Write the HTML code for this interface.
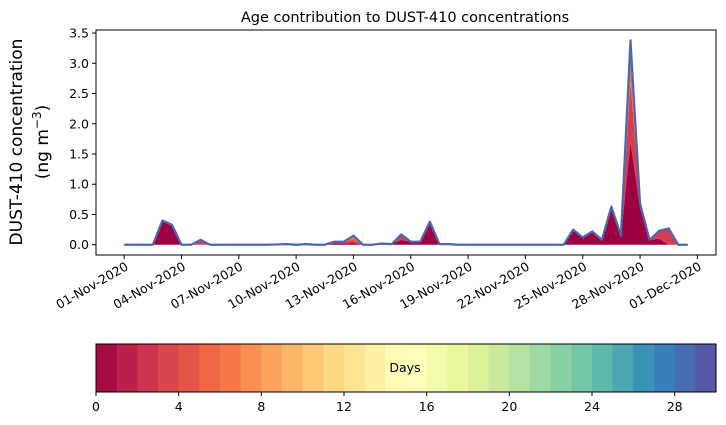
<!DOCTYPE html>
<html><head><meta charset="utf-8"><style>
body{margin:0;background:#fff;}
svg{display:block;font-family:"DejaVu Sans","Liberation Sans",sans-serif;}
</style></head><body>
<svg id="chart" width="726" height="425" viewBox="0 0 726 425" xmlns="http://www.w3.org/2000/svg">
<text x="405" y="22" font-size="14.5" text-anchor="middle">Age contribution to DUST-410 concentrations</text>
<g font-size="17" text-anchor="middle">
<text transform="translate(22,142) rotate(-90)">DUST-410 concentration</text>
<text transform="translate(48,142) rotate(-90)">(ng m<tspan font-size="12" dy="-7">−3</tspan><tspan dy="7">)</tspan></text>
</g>
<g id="layers"></g>
<g id="axes"></g>
<g id="cbar"></g>
</svg>
<script>
const dayIndex = [];
const ageDay0 = [0,0,0,0,.40,.33,0,0,0,0,0,0,0,0,0,0,0,.01,0,.01,0,0,.02,.02,.03,0,0,.01,.01,.08,.05,.05,.38,.01,.01,0,0,0,0,0,0,0,0,0,0,0,0,.25,.12,.22,.08,.63,.15,1.70,.60,.08,.10,0,0,0];
const ageDay1 = [0,0,0,0,0,0,0,0,.08,0,0,0,0,0,0,0,.005,0,0,0,0,0,.02,.02,.05,0,0,.01,0,.09,0,0,0,0,0,0,0,0,0,0,0,0,0,0,0,0,0,0,0,0,0,0,0,1.00,.08,0,.13,.27,0,0];
const ageDay2 = [0,0,0,0,0,0,0,0,0,0,0,0,0,0,0,0,0,0,0,0,0,0,.01,.01,.07,0,0,0,0,0,0,0,0,0,0,0,0,0,0,0,0,0,0,0,0,0,0,0,0,0,0,0,0,.68,0,0,0,0,0,0];
for(let i=0;i<ageDay0.length;i++) dayIndex.push(i*0.5);
const yTicks = [0,0.5,1.0,1.5,2.0,2.5,3.0,3.5];
const xTickDays = [0,3,6,9,12,15,18,21,24,27,30];
const xTickLabels = ["01-Nov-2020","04-Nov-2020","07-Nov-2020","10-Nov-2020","13-Nov-2020","16-Nov-2020","19-Nov-2020","22-Nov-2020","25-Nov-2020","28-Nov-2020","01-Dec-2020"];
const cbTicks = [0,4,8,12,16,20,24,28];

const NS="http://www.w3.org/2000/svg";
const L=96,R=716,T=30,B=255;
const xmin=-1.475,xmax=30.975,ymin=-0.17,ymax=3.55;
const X=d=>L+(d-xmin)/(xmax-xmin)*(R-L);
const Y=v=>B-(v-ymin)/(ymax-ymin)*(B-T);
function mk(tag,attrs,parent){const e=document.createElementNS(NS,tag);for(const k in attrs)e.setAttribute(k,attrs[k]);parent.appendChild(e);return e;}

const layers=document.getElementById('layers');
const series=[ageDay0,ageDay1,ageDay2];
const cols=["#9e0142","#d53e4f","#f46d43"];
const names=["age-day-0-area","age-day-1-area","age-day-2-area"];
let base=dayIndex.map(()=>0);
series.forEach((s,k)=>{
  const top=s.map((v,i)=>base[i]+v);
  let d=dayIndex.map((x,i)=>(i?'L':'M')+X(x).toFixed(2)+','+Y(top[i]).toFixed(2)).join('');
  for(let i=dayIndex.length-1;i>=0;i--) d+='L'+X(dayIndex[i]).toFixed(2)+','+Y(base[i]).toFixed(2);
  const p=mk('path',{d:d+'Z',fill:cols[k],stroke:'none'},layers);
  
  
  base=top;
});
const outline=mk('path',{d:dayIndex.map((x,i)=>(i?'L':'M')+X(x).toFixed(2)+','+Y(base[i]).toFixed(2)).join(''),fill:'none',stroke:'#4d68ad','stroke-width':2.2,'stroke-linejoin':'round'},layers);



const axes=document.getElementById('axes');
const frame=mk('rect',{x:L,y:T,width:R-L,height:B-T,fill:'none',stroke:'#000','stroke-width':1},axes);


yTicks.forEach(v=>{
  mk('line',{x1:L-4,x2:L,y1:Y(v),y2:Y(v),stroke:'#000'},axes);
  const t=mk('text',{x:L-7,y:Y(v)+4.5,'font-size':12.5,'text-anchor':'end'},axes);
  t.textContent=v.toFixed(1);
  
  
});
xTickDays.forEach((d,i)=>{
  mk('line',{x1:X(d),x2:X(d),y1:B,y2:B+4,stroke:'#000'},axes);
  const t=mk('text',{transform:`translate(${X(d)+5},${B+14}) rotate(-30)`,'font-size':12.5,'text-anchor':'end'},axes);
  t.textContent=xTickLabels[i];
  
  
});

// colorbar
const anchors=[[158,1,66],[213,62,79],[244,109,67],[253,174,97],[254,224,139],[255,255,191],[230,245,152],[171,221,164],[102,194,165],[50,136,189],[94,79,162]];
function spectral(t){const p=t*10,i=Math.min(9,Math.floor(p)),f=p-i;return 'rgb('+anchors[i].map((c,j)=>Math.round(c+(anchors[i+1][j]-c)*f)).join(',')+')';}
const cb=document.getElementById('cbar');
const CL=96,CR=716,CT=344,CB=392,N=30;
const CX=v=>CL+v/N*(CR-CL);
for(let i=0;i<N;i++){
  const r=mk('rect',{x:CX(i),y:CT,width:(CR-CL)/N+0.5,height:CB-CT,fill:spectral((i+0.5)/N)},cb);
  
  
}
const cf=mk('rect',{x:CL,y:CT,width:CR-CL,height:CB-CT,fill:'none',stroke:'#000'},cb);


const dl=mk('text',{x:405,y:372,'font-size':12.5,'text-anchor':'middle'},cb);
dl.textContent='Days';


cbTicks.forEach(v=>{
  mk('line',{x1:CX(v),x2:CX(v),y1:CB,y2:CB+4,stroke:'#000'},cb);
  const t=mk('text',{x:CX(v),y:CB+19,'font-size':12.5,'text-anchor':'middle'},cb);
  t.textContent=v;
  
  
});
</script>
</body></html>
